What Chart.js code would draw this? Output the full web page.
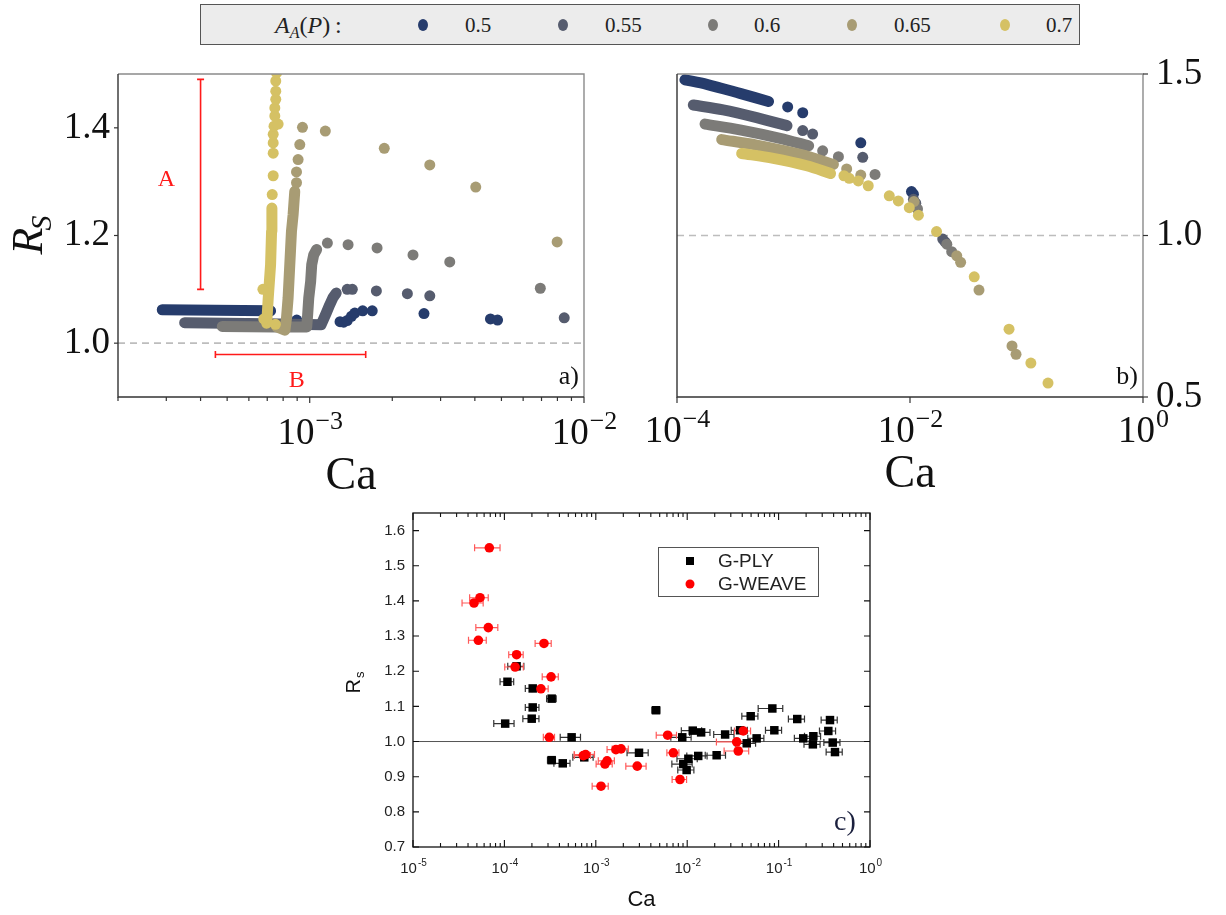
<!DOCTYPE html>
<html><head><meta charset="utf-8">
<script src="https://cdn.jsdelivr.net/npm/chart.js@4.4.1/dist/chart.umd.min.js"></script>
<style>
html,body{margin:0;padding:0;background:#fff;}
#wrap{position:relative;width:1226px;height:915px;overflow:hidden;background:#fff;}
canvas{position:absolute;left:0;top:0;}
#leg{position:absolute;left:200px;top:4px;width:880px;height:41px;box-sizing:border-box;background:#ececec;border:1px solid #555;font-family:"Liberation Serif",serif;font-size:21px;color:#222;}
.lt{position:absolute;top:50%;transform:translateY(-50%);white-space:nowrap;line-height:1;}
.ld{position:absolute;top:50%;width:10px;height:12px;border-radius:50%;transform:translate(-50%,-50%);}
</style></head><body>
<div id="wrap">
<canvas id="cA" width="1226" height="915"></canvas>
<canvas id="cB" width="1226" height="915"></canvas>
<canvas id="cC" width="1226" height="915"></canvas>
<div id="leg"></div>
</div>
<script>
// ================= DATA =================
const fractionLabels = ['0.5','0.55','0.6','0.65','0.7'];
const seriesColors = ['#263c6c','#565c6e','#7c7b78','#a89c74','#d5c164'];

// ---- panel a) : [Ca, R_S] ----
const aStrip05 = [[2.9e-4,1.062],[4.5e-4,1.061],[7.2e-4,1.060]];
const aDots05  = [[8.97e-4,1.043],[1.29e-3,1.040],[1.33e-3,1.039],[1.37e-3,1.042],[1.42e-3,1.050],[1.46e-3,1.056],[1.56e-3,1.060],[1.69e-3,1.060],[2.61e-3,1.055],[4.56e-3,1.045],[4.84e-3,1.043]];
const aStrip055 = [[3.5e-4,1.038],[7.0e-4,1.036],[1.10e-3,1.034],[1.149e-3,1.056],[1.182e-3,1.071],[1.214e-3,1.084],[1.249e-3,1.093]];
const aDots055  = [[1.37e-3,1.100],[1.43e-3,1.100],[1.75e-3,1.097],[2.27e-3,1.092],[2.74e-3,1.088],[8.47e-3,1.047]];
const aStrip06 = [[4.8e-4,1.031],[7.5e-4,1.030],[9.75e-4,1.030],[9.83e-4,1.053],[9.92e-4,1.084],[1.008e-3,1.115],[1.017e-3,1.146],[1.034e-3,1.164],[1.06e-3,1.174]];
const aDots06  = [[1.16e-3,1.186],[1.38e-3,1.183],[1.76e-3,1.177],[2.38e-3,1.164],[3.24e-3,1.151],[6.93e-3,1.102]];
const aStrip065 = [[7.6e-4,1.030],[8.12e-4,1.024],[8.23e-4,1.047],[8.34e-4,1.084],[8.46e-4,1.146],[8.52e-4,1.177],[8.58e-4,1.208],[8.70e-4,1.239],[8.82e-4,1.282]];
const aDots065  = [[8.95e-4,1.298],[8.95e-4,1.318],[9.07e-4,1.341],[9.2e-4,1.369],[9.41e-4,1.401],[1.14e-3,1.394],[1.87e-3,1.362],[2.74e-3,1.331],[4.03e-3,1.290],[7.98e-3,1.188]];
const aStrip07 = [[6.97e-4,1.037],[7.06e-4,1.084],[7.2e-4,1.146],[7.26e-4,1.208],[7.28e-4,1.251]];
const aDots07  = [[6.75e-4,1.100],[6.8e-4,1.045],[7.5e-4,1.035],[7.3e-4,1.276],[7.36e-4,1.311],[7.36e-4,1.353],[7.36e-4,1.372],[7.36e-4,1.388],[7.41e-4,1.403],[7.67e-4,1.407],[7.46e-4,1.422],[7.46e-4,1.437],[7.52e-4,1.453],[7.52e-4,1.468],[7.52e-4,1.487],[7.57e-4,1.502]];
const aYTicks = [1.0,1.2,1.4];
const aXMajor = [1e-3,1e-2];

// ---- panel b) : [Ca, R_S] ----
const bStrip05 = [[1.17e-4,1.482],[1.8e-4,1.468],[3.47e-4,1.440],[6.1e-4,1.415]];
const bDots05  = [[8.91e-4,1.398],[1.2e-3,1.380],[3.78e-3,1.287],[1.03e-2,1.136],[1.07e-2,1.128]];
const bStrip055 = [[1.38e-4,1.404],[2.49e-4,1.389],[4.83e-4,1.365],[8.8e-4,1.340]];
const bDots055  = [[1.2e-3,1.325],[1.46e-3,1.314],[3.93e-3,1.242],[1.07e-2,1.112],[1.12e-2,1.100],[1.91e-2,0.989],[2.0e-2,0.980]];
const bStrip06 = [[1.74e-4,1.345],[3.47e-4,1.327],[7.66e-4,1.301],[1.35e-3,1.278]];
const bDots06  = [[1.78e-3,1.262],[2.43e-3,1.244],[5.01e-3,1.189],[1.10e-2,1.100],[1.16e-2,1.082],[2.07e-2,0.973],[2.28e-2,0.950]];
const bStrip065 = [[2.42e-4,1.297],[4.83e-4,1.280],[1.14e-3,1.251],[2.2e-3,1.220]];
const bDots065  = [[2.86e-3,1.206],[3.78e-3,1.187],[1.08e-2,1.105],[2.52e-2,0.937],[2.72e-2,0.917],[3.91e-2,0.831],[7.51e-2,0.658],[8.13e-2,0.632]];
const bStrip07 = [[3.59e-4,1.254],[6.71e-4,1.239],[1.30e-3,1.216],[2.08e-3,1.192]];
const bDots07  = [[2.71e-3,1.185],[3.01e-3,1.177],[3.6e-3,1.169],[4.38e-3,1.154],[6.64e-3,1.123],[7.94e-3,1.107],[9.86e-3,1.086],[1.18e-2,1.063],[1.69e-2,1.012],[3.56e-2,0.872],[7.08e-2,0.710],[0.109,0.605],[0.153,0.543]];
const bYTicks = [0.5,1.0,1.5];
const bXMajor = [1e-4,1e-2,1];

// ---- panel c) : [Ca, R_s, relative Ca error] ----
const gPly = [
 [1.08e-4,1.170,0.17],[1.36e-4,1.214,0.20],[2.04e-4,1.151,0.17],[3.29e-4,1.122,0.12],[2.04e-4,1.097,0.17],
 [1.99e-4,1.065,0.20],[1.02e-4,1.051,0.25],[5.44e-4,1.012,0.25],[3.29e-4,0.947,0.10],[4.35e-4,0.938,0.20],
 [7.48e-4,0.955,0.25],[2.97e-3,0.968,0.26],[4.56e-3,1.089,0.10],[8.83e-3,1.012,0.25],[1.15e-2,1.031,0.25],
 [1.42e-2,1.026,0.25],[1.03e-2,0.951,0.25],[9.06e-3,0.936,0.25],[9.86e-3,0.919,0.20],[1.32e-2,0.959,0.25],
 [2.1e-2,0.961,0.25],[2.6e-2,1.020,0.25],[3.79e-2,1.032,0.20],[4.48e-2,0.995,0.25],[5.75e-2,1.009,0.20],
 [4.95e-2,1.072,0.20],[8.54e-2,1.094,0.30],[8.98e-2,1.032,0.20],[0.160,1.064,0.20],[0.186,1.009,0.20],
 [0.240,1.015,0.20],[0.237,0.992,0.20],[0.350,1.030,0.20],[0.365,1.061,0.20],[0.391,0.997,0.20],[0.414,0.970,0.20]
];
const gWeave = [
 [6.84e-5,1.551,0.31],[5.41e-5,1.409,0.23],[4.65e-5,1.394,0.26],[6.67e-5,1.324,0.27],[5.19e-5,1.288,0.22],
 [2.71e-4,1.279,0.20],[1.36e-4,1.247,0.18],[1.31e-4,1.212,0.23],[3.24e-4,1.184,0.20],[2.51e-4,1.150,0.20],
 [3.1e-4,1.012,0.14],[7.74e-4,0.963,0.25],[7.3e-4,0.960,0.20],[1.66e-3,0.977,0.20],[1.89e-3,0.979,0.20],
 [1.26e-3,0.936,0.20],[1.33e-3,0.945,0.20],[1.14e-3,0.873,0.20],[2.84e-3,0.930,0.25],[6.11e-3,1.018,0.25],
 [7.05e-3,0.968,0.15],[8.34e-3,0.892,0.18],[4.11e-2,1.030,0.20],[3.48e-2,0.999,0.40],[3.62e-2,0.973,0.30]
];
const cYTicks = [0.7,0.8,0.9,1.0,1.1,1.2,1.3,1.4,1.5,1.6];
const cXMajor = [1e-5,1e-4,1e-3,1e-2,1e-1,1];
const cSeriesNames = ['G-PLY','G-WEAVE'];

// ================= LAYOUT =================
const W = 1226, H = 915;
const areaA = {left:118, top:74, right:584, bottom:397};
const areaB = {left:677, top:74, right:1143, bottom:397};
const areaC = {left:413, top:513, right:870, bottom:847};
const SERIF = '"Liberation Serif", "DejaVu Serif", serif';
const SANS = '"Liberation Sans", Arial, sans-serif';
const DOT_R = 5.5, STRIP_W = 11;

function pads(area, yW, yPos){
  return yPos === 'left'
    ? {left: area.left - yW, top: area.top, right: W - area.right, bottom: H - area.bottom}
    : {left: area.left, top: area.top, right: W - area.right - yW, bottom: H - area.bottom};
}
const toXY = arr => arr.map(p => ({x:p[0], y:p[1]}));

function stripDS(data, color, order, tension){
  return {data: toXY(data), showLine:true, borderColor:color, backgroundColor:color, borderWidth:STRIP_W,
    borderCapStyle:'round', borderJoinStyle:'round', pointRadius:0, pointHoverRadius:0, tension:tension, order:order};
}
function dotsDS(data, color, order){
  return {data: toXY(data), showLine:false, backgroundColor:color, borderColor:color, borderWidth:0,
    pointRadius:DOT_R, pointHoverRadius:DOT_R, order:order};
}
function makeOptions(area, yPos, yW, xMin, xMax, yMin, yMax, yTicks, yFont, yPad, yColor){
  return {
    responsive:false, animation:false, devicePixelRatio:1, events:[],
    layout:{padding: pads(area, yW, yPos)},
    plugins:{legend:{display:false}, tooltip:{enabled:false}},
    scales:{
      x:{type:'logarithmic', display:false, min:xMin, max:xMax},
      y:{type:'linear', position:yPos, min:yMin, max:yMax,
        grid:{display:false, drawTicks:false}, border:{display:false},
        afterBuildTicks: s => { s.ticks = yTicks.map(v => ({value:v})); },
        afterFit: s => { s.width = yW; },
        ticks:{font:yFont, color:yColor, padding:yPad, callback: v => Number(v).toFixed(1)}}
    }
  };
}
function minorTicks(majors, min, max){
  const out = [];
  const lo = Math.floor(Math.log10(min)), hi = Math.ceil(Math.log10(max));
  for (let e = lo; e < hi; e++) for (let k = 2; k <= 9; k++){
    const v = k * Math.pow(10, e);
    if (v >= min * 0.999 && v <= max * 1.001) out.push(v);
  }
  return out;
}
function drawPow(ctx, cx, baseY, exp, baseFont, supFont, raise, color, minus){
  const es = exp < 0 ? minus + (-exp) : String(exp);
  ctx.font = baseFont; const wb = ctx.measureText('10').width;
  ctx.font = supFont; const ws = ctx.measureText(es).width;
  const x0 = cx - (wb + ws) / 2;
  ctx.fillStyle = color; ctx.textAlign = 'left'; ctx.textBaseline = 'alphabetic';
  ctx.font = baseFont; ctx.fillText('10', x0, baseY);
  ctx.font = supFont; ctx.fillText(es, x0 + wb + 1, baseY - raise);
}
function dashedOne(chart){
  const {ctx, chartArea:ca, scales:{y}} = chart;
  const py = y.getPixelForValue(1.0);
  ctx.save(); ctx.strokeStyle = '#bdbdbd'; ctx.lineWidth = 1.6; ctx.setLineDash([7,5]);
  ctx.beginPath(); ctx.moveTo(ca.left, py); ctx.lineTo(ca.right, py); ctx.stroke(); ctx.restore();
}
function boxFrame(ctx, ca){
  ctx.save(); ctx.lineWidth = 1.4;
  ctx.strokeStyle = '#8a8a8a';
  ctx.beginPath(); ctx.moveTo(ca.left, ca.top); ctx.lineTo(ca.right, ca.top); ctx.lineTo(ca.right, ca.bottom); ctx.stroke();
  ctx.strokeStyle = '#333';
  ctx.beginPath(); ctx.moveTo(ca.left, ca.top); ctx.lineTo(ca.left, ca.bottom); ctx.lineTo(ca.right, ca.bottom); ctx.stroke();
  ctx.restore();
}
function panelDatasets(strips, dots, tension){
  const ds = [];
  strips.forEach((s, i) => {
    const ord = (4 - i) * 2;
    ds.push(stripDS(s, seriesColors[i], ord + 1, tension));
    ds.push(dotsDS(dots[i], seriesColors[i], ord));
  });
  return ds;
}

// ================= PANEL A =================
const pluginA = {
  id:'panelA',
  beforeDatasetsDraw(chart){ dashedOne(chart); },
  afterDraw(chart){
    const {ctx, chartArea:ca, scales:{x,y}} = chart;
    boxFrame(ctx, ca);
    ctx.save(); ctx.strokeStyle = '#333'; ctx.lineWidth = 1.2;
    minorTicks(aXMajor, x.min, x.max).forEach(v => {
      const px = x.getPixelForValue(v);
      ctx.beginPath(); ctx.moveTo(px, ca.bottom); ctx.lineTo(px, ca.bottom + 4); ctx.stroke();
    });
    aXMajor.forEach(v => { const px = x.getPixelForValue(v); ctx.beginPath(); ctx.moveTo(px, ca.bottom); ctx.lineTo(px, ca.bottom + 6); ctx.stroke(); });
    aYTicks.forEach(v => { const py = y.getPixelForValue(v); ctx.beginPath(); ctx.moveTo(ca.left, py); ctx.lineTo(ca.left - 4, py); ctx.stroke(); });
    ctx.restore();
    aXMajor.forEach(v => drawPow(ctx, x.getPixelForValue(v), 444, Math.round(Math.log10(v)), '37px ' + SERIF, '26px ' + SERIF, 15, '#111', '\u2212'));
    ctx.save(); ctx.fillStyle = '#111'; ctx.textAlign = 'center'; ctx.textBaseline = 'alphabetic';
    ctx.font = '46px ' + SERIF; ctx.fillText('Ca', (ca.left + ca.right) / 2, 489);
    ctx.restore();
    ctx.save(); ctx.translate(42, 233.5); ctx.rotate(-Math.PI / 2);
    ctx.font = 'italic 44px ' + SERIF; const wR = ctx.measureText('R').width;
    ctx.font = 'italic 30px ' + SERIF; const wS = ctx.measureText('S').width;
    const x0 = -(wR + wS) / 2; ctx.fillStyle = '#111'; ctx.textAlign = 'left'; ctx.textBaseline = 'alphabetic';
    ctx.font = 'italic 44px ' + SERIF; ctx.fillText('R', x0, 0);
    ctx.font = 'italic 30px ' + SERIF; ctx.fillText('S', x0 + wR - 3, 9);
    ctx.restore();
    // annotations A / B
    ctx.save(); ctx.strokeStyle = '#ff1a1a'; ctx.fillStyle = '#ff1a1a'; ctx.lineWidth = 1.6;
    const ax = x.getPixelForValue(4.0e-4), ay1 = y.getPixelForValue(1.49), ay2 = y.getPixelForValue(1.10);
    ctx.beginPath(); ctx.moveTo(ax, ay1); ctx.lineTo(ax, ay2);
    ctx.moveTo(ax - 3.5, ay1); ctx.lineTo(ax + 3.5, ay1); ctx.moveTo(ax - 3.5, ay2); ctx.lineTo(ax + 3.5, ay2); ctx.stroke();
    const by = y.getPixelForValue(0.979), bx1 = x.getPixelForValue(4.53e-4), bx2 = x.getPixelForValue(1.6e-3);
    ctx.beginPath(); ctx.moveTo(bx1, by); ctx.lineTo(bx2, by);
    ctx.moveTo(bx1, by - 3.5); ctx.lineTo(bx1, by + 3.5); ctx.moveTo(bx2, by - 3.5); ctx.lineTo(bx2, by + 3.5); ctx.stroke();
    ctx.font = '24px ' + SERIF; ctx.textAlign = 'center'; ctx.textBaseline = 'middle';
    ctx.fillText('A', x.getPixelForValue(3.0e-4), y.getPixelForValue(1.303));
    ctx.fillText('B', x.getPixelForValue(8.97e-4), y.getPixelForValue(0.931));
    ctx.restore();
    ctx.save(); ctx.fillStyle = '#111'; ctx.font = '26px ' + SERIF; ctx.textAlign = 'right'; ctx.textBaseline = 'alphabetic';
    ctx.fillText('a)', ca.right - 5, ca.bottom - 13); ctx.restore();
  }
};
new Chart(document.getElementById('cA'), {
  type:'scatter',
  data:{datasets: panelDatasets([aStrip05,aStrip055,aStrip06,aStrip065,aStrip07],[aDots05,aDots055,aDots06,aDots065,aDots07], 0)},
  options: makeOptions(areaA, 'left', 80, 2e-4, 1e-2, 0.9, 1.5, aYTicks, {family:'Liberation Serif', size:37}, 8, '#111'),
  plugins:[pluginA]
});

// ================= PANEL B =================
const pluginB = {
  id:'panelB',
  beforeDatasetsDraw(chart){ dashedOne(chart); },
  afterDraw(chart){
    const {ctx, chartArea:ca, scales:{x,y}} = chart;
    boxFrame(ctx, ca);
    ctx.save(); ctx.strokeStyle = '#333'; ctx.lineWidth = 1.2;
    bXMajor.forEach(v => { const px = x.getPixelForValue(v); ctx.beginPath(); ctx.moveTo(px, ca.bottom); ctx.lineTo(px, ca.bottom + 6); ctx.stroke(); });
    bYTicks.forEach(v => { const py = y.getPixelForValue(v); ctx.beginPath(); ctx.moveTo(ca.right, py); ctx.lineTo(ca.right + 5, py); ctx.stroke(); });
    ctx.restore();
    bXMajor.forEach(v => drawPow(ctx, x.getPixelForValue(v), 442, Math.round(Math.log10(v)), '37px ' + SERIF, '26px ' + SERIF, 15, '#111', '\u2212'));
    ctx.save(); ctx.fillStyle = '#111'; ctx.textAlign = 'center'; ctx.textBaseline = 'alphabetic';
    ctx.font = '46px ' + SERIF; ctx.fillText('Ca', (ca.left + ca.right) / 2, 487);
    ctx.font = '26px ' + SERIF; ctx.textAlign = 'right'; ctx.fillText('b)', ca.right - 5, ca.bottom - 13);
    ctx.restore();
  }
};
new Chart(document.getElementById('cB'), {
  type:'scatter',
  data:{datasets: panelDatasets([bStrip05,bStrip055,bStrip06,bStrip065,bStrip07],[bDots05,bDots055,bDots06,bDots065,bDots07], 0.3)},
  options: makeOptions(areaB, 'right', 70, 1e-4, 1, 0.5, 1.5, bYTicks, {family:'Liberation Serif', size:37}, 13, '#111'),
  plugins:[pluginB]
});

// ================= PANEL C =================
const plyColor = '#000000', weaveColor = '#ff0000';
const pluginC = {
  id:'panelC',
  beforeDatasetsDraw(chart){
    const {ctx, chartArea:ca, scales:{x,y}} = chart;
    ctx.save();
    const py1 = y.getPixelForValue(1.0);
    ctx.strokeStyle = '#555'; ctx.lineWidth = 1; ctx.beginPath(); ctx.moveTo(ca.left, py1); ctx.lineTo(ca.right, py1); ctx.stroke();
    const bars = (arr, col) => {
      ctx.strokeStyle = col; ctx.lineWidth = 1.2;
      arr.forEach(p => {
        const x0 = x.getPixelForValue(p[0] * (1 - p[2])), x1 = x.getPixelForValue(p[0] * (1 + p[2])), py = y.getPixelForValue(p[1]);
        ctx.beginPath(); ctx.moveTo(x0, py); ctx.lineTo(x1, py);
        ctx.moveTo(x0, py - 3.5); ctx.lineTo(x0, py + 3.5); ctx.moveTo(x1, py - 3.5); ctx.lineTo(x1, py + 3.5); ctx.stroke();
      });
    };
    bars(gPly, '#333');
    bars(gWeave, '#ff5a5a');
    ctx.restore();
  },
  afterDraw(chart){
    const {ctx, chartArea:ca, scales:{x,y}} = chart;
    ctx.save();
    ctx.strokeStyle = '#111'; ctx.lineWidth = 1.3;
    ctx.strokeRect(ca.left, ca.top, ca.right - ca.left, ca.bottom - ca.top);
    ctx.lineWidth = 1.1;
    minorTicks(cXMajor, x.min, x.max).forEach(v => { const px = x.getPixelForValue(v);
      ctx.beginPath(); ctx.moveTo(px, ca.bottom); ctx.lineTo(px, ca.bottom - 4); ctx.moveTo(px, ca.top); ctx.lineTo(px, ca.top + 4); ctx.stroke(); });
    cXMajor.forEach(v => { const px = x.getPixelForValue(v);
      ctx.beginPath(); ctx.moveTo(px, ca.bottom); ctx.lineTo(px, ca.bottom - 7); ctx.moveTo(px, ca.top); ctx.lineTo(px, ca.top + 7); ctx.stroke(); });
    cYTicks.forEach(v => { const py = y.getPixelForValue(v);
      ctx.beginPath(); ctx.moveTo(ca.left, py); ctx.lineTo(ca.left + 6, py); ctx.moveTo(ca.right, py); ctx.lineTo(ca.right - 6, py); ctx.stroke(); });
    ctx.restore();
    cXMajor.forEach(v => drawPow(ctx, x.getPixelForValue(v), 873, Math.round(Math.log10(v)), '15px ' + SANS, '10px ' + SANS, 7, '#222', '-'));
    ctx.save(); ctx.fillStyle = '#111'; ctx.textAlign = 'center'; ctx.textBaseline = 'alphabetic';
    ctx.font = '22px ' + SANS; ctx.fillText('Ca', (ca.left + ca.right) / 2, 906);
    ctx.restore();
    ctx.save(); ctx.translate(360, 683); ctx.rotate(-Math.PI / 2);
    ctx.font = '20px ' + SANS; const wR = ctx.measureText('R').width;
    ctx.font = '13px ' + SANS; const ws = ctx.measureText('s').width;
    const x0 = -(wR + ws) / 2; ctx.fillStyle = '#111'; ctx.textAlign = 'left'; ctx.textBaseline = 'alphabetic';
    ctx.font = '20px ' + SANS; ctx.fillText('R', x0, 0);
    ctx.font = '13px ' + SANS; ctx.fillText('s', x0 + wR + 1, 4);
    ctx.restore();
    // legend box
    ctx.save();
    ctx.fillStyle = '#fff'; ctx.fillRect(658, 547, 160, 49);
    ctx.strokeStyle = '#555'; ctx.lineWidth = 1; ctx.strokeRect(658.5, 547.5, 160, 49);
    ctx.fillStyle = plyColor; ctx.fillRect(686, 557, 8, 8);
    ctx.fillStyle = weaveColor; ctx.beginPath(); ctx.arc(690, 584, 4.5, 0, Math.PI * 2); ctx.fill();
    ctx.fillStyle = '#222'; ctx.font = '19px ' + SANS; ctx.textAlign = 'left'; ctx.textBaseline = 'middle';
    ctx.fillText(cSeriesNames[0], 718, 562); ctx.fillText(cSeriesNames[1], 718, 585);
    ctx.fillStyle = '#1a1f3d'; ctx.font = '28px ' + SERIF; ctx.textAlign = 'center'; ctx.textBaseline = 'middle';
    ctx.fillText('c)', 845, 823);
    ctx.restore();
  }
};
new Chart(document.getElementById('cC'), {
  type:'scatter',
  data:{datasets:[
    {label:cSeriesNames[0], data:toXY(gPly), pointStyle:'rect', pointRadius:6, pointHoverRadius:6, backgroundColor:plyColor, borderColor:plyColor, borderWidth:0, order:1},
    {label:cSeriesNames[1], data:toXY(gWeave), pointStyle:'circle', pointRadius:4.8, pointHoverRadius:4.8, backgroundColor:weaveColor, borderColor:weaveColor, borderWidth:0, order:0}
  ]},
  options: makeOptions(areaC, 'left', 60, 1e-5, 1, 0.7, 1.65, cYTicks, {family:'Liberation Sans', size:15}, 8, '#222'),
  plugins:[pluginC]
});

// ================= TOP LEGEND (HTML) =================
const legDotX = [222, 362, 512, 651, 804];
const legTextX = [264, 404, 553, 693, 845];
const leg = document.getElementById('leg');
let html = '<span class="lt" style="left:74px;font-size:24px;"><i>A</i><i style="font-size:16px;position:relative;top:5px;">A</i>(<i>P</i>)&thinsp;:</span>';
fractionLabels.forEach((f, i) => {
  html += '<span class="ld" style="left:' + legDotX[i] + 'px;background:' + seriesColors[i] + ';"></span>';
  html += '<span class="lt" style="left:' + legTextX[i] + 'px;">' + f + '</span>';
});
leg.innerHTML = html;
</script>
</body></html>
